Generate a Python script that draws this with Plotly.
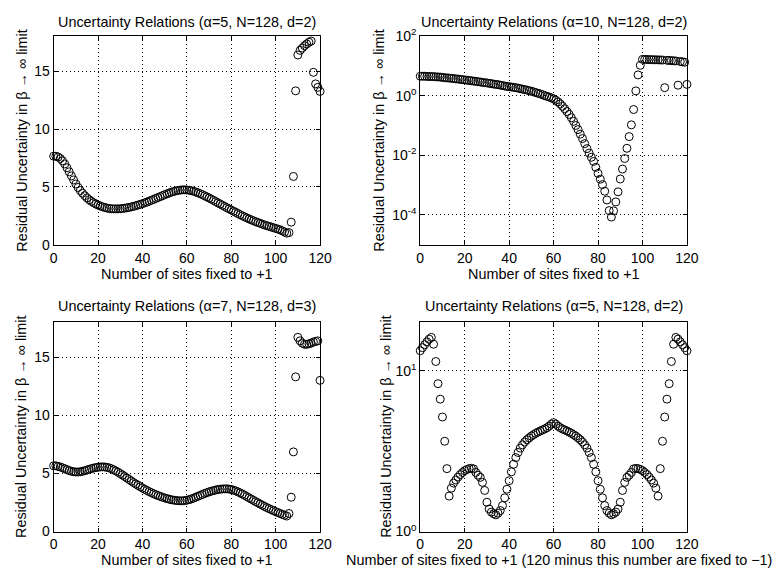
import plotly.graph_objects as go

W, H = 777, 577

sites = list(range(0, 121))

u_a5 = [7.65, 7.65, 7.58, 7.45, 7.25, 6.98, 6.65, 6.3, 5.95, 5.6,
        5.25, 4.95, 4.68, 4.45, 4.24, 4.05, 3.89, 3.75, 3.63, 3.52,
        3.43, 3.35, 3.28, 3.22, 3.17, 3.13, 3.11, 3.1, 3.1, 3.1,
        3.11, 3.13, 3.16, 3.19, 3.23, 3.27, 3.32, 3.37, 3.43, 3.49,
        3.55, 3.62, 3.69, 3.76, 3.84, 3.92, 4.0, 4.08, 4.16, 4.24,
        4.32, 4.4, 4.47, 4.54, 4.6, 4.65, 4.69, 4.72, 4.74, 4.75,
        4.73, 4.71, 4.67, 4.62, 4.56, 4.49, 4.41, 4.32, 4.23, 4.14,
        4.04, 3.94, 3.84, 3.73, 3.62, 3.52, 3.41, 3.31, 3.2, 3.1,
        3.0, 2.9, 2.8, 2.7, 2.6, 2.5, 2.41, 2.32, 2.23, 2.15,
        2.07, 1.99, 1.92, 1.85, 1.78, 1.71, 1.65, 1.59, 1.53, 1.47,
        1.41, 1.35, 1.29, 1.2, 1.1, 1.0, 1.05, 1.95, 5.9, 13.3,
        16.4, 16.8, 17.0, 17.2, 17.35, 17.5, 17.6, 14.9, 13.9, 13.6, 13.25]

u_a10 = [4.6, 4.6, 4.6, 4.55, 4.5, 4.5, 4.45, 4.4, 4.35, 4.3,
         4.2, 4.1, 4.05, 4.0, 3.9, 3.85, 3.75, 3.7, 3.6, 3.55,
         3.45, 3.4, 3.3, 3.25, 3.15, 3.1, 3.0, 2.95, 2.85, 2.8,
         2.75, 2.65, 2.6, 2.5, 2.45, 2.4, 2.3, 2.25, 2.15, 2.1,
         2.05, 2.0, 1.95, 1.9, 1.83, 1.76, 1.7, 1.64, 1.58, 1.5,
         1.44, 1.37, 1.3, 1.23, 1.17, 1.1, 1.03, 0.97, 0.92, 0.86,
         0.8, 0.72, 0.63, 0.54, 0.45, 0.37, 0.3, 0.24, 0.185, 0.14,
         0.102, 0.074, 0.052, 0.037, 0.025, 0.017, 0.012, 0.0087, 0.0063, 0.004,
         0.0025, 0.0016, 0.00105, 0.00063, 0.00032, 0.00014, 0.000085, 0.000138, 0.000275, 0.0006,
         0.00162, 0.0035, 0.0079, 0.0174, 0.043, 0.107, 0.35, 1.48, 5.1, 10.7,
         17.0, 16.9, 16.8, 16.7, 16.6, 16.5, 16.4, 16.3, 16.2, 16.1,
         1.9, 15.8, 15.6, 15.4, 15.2, 15.0, 2.3, 14.4, 14.0, 13.6, 2.45]

u_a7 = [5.65, 5.65, 5.6, 5.55, 5.48, 5.4, 5.32, 5.24, 5.18, 5.14,
        5.12, 5.12, 5.14, 5.18, 5.23, 5.29, 5.35, 5.41, 5.46, 5.5,
        5.53, 5.55, 5.56, 5.55, 5.52, 5.47, 5.4, 5.31, 5.21, 5.1,
        4.98, 4.86, 4.73, 4.6, 4.47, 4.34, 4.21, 4.09, 3.97, 3.85,
        3.74, 3.63, 3.53, 3.43, 3.34, 3.25, 3.17, 3.09, 3.02, 2.95,
        2.89, 2.83, 2.78, 2.73, 2.7, 2.67, 2.65, 2.64, 2.64, 2.66,
        2.69, 2.74, 2.8, 2.87, 2.95, 3.03, 3.11, 3.19, 3.27, 3.34,
        3.41, 3.47, 3.52, 3.57, 3.61, 3.64, 3.66, 3.67, 3.67, 3.65,
        3.61, 3.56, 3.49, 3.41, 3.32, 3.22, 3.12, 3.01, 2.9, 2.79,
        2.68, 2.57, 2.47, 2.36, 2.26, 2.16, 2.06, 1.97, 1.88, 1.79,
        1.71, 1.63, 1.55, 1.47, 1.4, 1.33, 1.55, 2.95, 6.85, 13.3,
        16.7, 16.4, 16.2, 16.1, 16.1, 16.15, 16.2, 16.3, 16.35, 16.4, 13.0]

u_sym = [13.3, 13.9, 14.5, 15.1, 15.7, 16.1, 14.6, 11.4, 8.3, 6.65,
         5.15, 3.64, 2.46, 1.66, 1.86, 2.0, 2.09, 2.18, 2.26, 2.33,
         2.39, 2.43, 2.46, 2.47, 2.45, 2.33, 2.24, 2.17, 2.02, 1.8,
         1.52, 1.38, 1.32, 1.29, 1.27, 1.3, 1.35, 1.45, 1.62, 1.83,
         2.07, 2.35, 2.62, 2.88, 3.1, 3.3, 3.46, 3.6, 3.72, 3.82,
         3.92, 4.0, 4.08, 4.15, 4.22, 4.28, 4.34, 4.42, 4.52, 4.65,
         4.75,
         4.65, 4.52, 4.42, 4.34, 4.28, 4.22, 4.15, 4.08, 4.0, 3.92,
         3.82, 3.72, 3.6, 3.46, 3.3, 3.1, 2.88, 2.62, 2.35, 2.07,
         1.83, 1.62, 1.45, 1.35, 1.3, 1.27, 1.29, 1.32, 1.38, 1.52,
         1.8, 2.02, 2.17, 2.24, 2.33, 2.45, 2.47, 2.46, 2.43, 2.39,
         2.33, 2.26, 2.18, 2.09, 2.0, 1.86, 1.66, 2.46, 3.64, 5.15,
         6.65, 8.3, 11.4, 14.6, 16.1, 15.7, 15.1, 14.5, 13.9, 13.3]

titles = ["Uncertainty Relations (\u03b1=5, N=128, d=2)",
          "Uncertainty Relations (\u03b1=10, N=128, d=2)",
          "Uncertainty Relations (\u03b1=7, N=128, d=3)",
          "Uncertainty Relations (\u03b1=5, N=128, d=2)"]
xlabels = ["Number of sites fixed to +1",
           "Number of sites fixed to +1",
           "Number of sites fixed to +1",
           "Number of sites fixed to +1 (120 minus this number are fixed to \u22121)"]
ylabel = "Residual Uncertainty in \u03b2 \u2192 \u221e limit"

x_ticks = [0, 20, 40, 60, 80, 100, 120]
lin_ticks = [0, 5, 10, 15]
log_ticks_a10 = [1e-4, 1e-2, 1, 100]
log_text_a10 = ["10<sup>-4</sup>", "10<sup>-2</sup>", "10<sup>0</sup>", "10<sup>2</sup>"]
log_ticks_sym = [1, 10]
log_text_sym = ["10<sup>0</sup>", "10<sup>1</sup>"]

FONT = "Liberation Sans, Arial, Helvetica, sans-serif"
TXT = 14.4
TICK = 14

# pixel geometry
left_col = (50.7, 322.7)
right_col = (425.0, 697.3)
top_row = (27.3, 242.3)
bot_row = (322.3, 538.3)

def xd(c):
    return [c[0] / W, c[1] / W]

def yd(r):
    return [1 - r[1] / H, 1 - r[0] / H]

fig = go.Figure()
series = [u_a5, u_a10, u_a7, u_sym]
for i, ys in enumerate(series):
    fig.add_trace(go.Scatter(
        x=sites, y=ys, mode="markers",
        marker=dict(symbol="circle-open", size=8, color="black", line=dict(width=1, color="black")),
        xaxis="x" if i == 0 else f"x{i+1}", yaxis="y" if i == 0 else f"y{i+1}",
        cliponaxis=False, showlegend=False, hoverinfo="skip"))

common = dict(showline=True, linecolor="black", linewidth=1, mirror="allticks",
              ticks="inside", ticklen=4, tickcolor="black", showgrid=True,
              gridcolor="black", gridwidth=1, griddash="1px,3px", zeroline=False,
              tickfont=dict(family=FONT, size=TICK, color="black"))

layout = dict(width=W, height=H, margin=dict(l=0, r=0, t=0, b=0),
              paper_bgcolor="white", plot_bgcolor="white", hovermode=False,
              font=dict(family=FONT, size=TXT, color="black"))

cols = [left_col, right_col, left_col, right_col]
rows = [top_row, top_row, bot_row, bot_row]
for i in range(4):
    xk = "xaxis" if i == 0 else f"xaxis{i+1}"
    yk = "yaxis" if i == 0 else f"yaxis{i+1}"
    anchor_y = "y" if i == 0 else f"y{i+1}"
    anchor_x = "x" if i == 0 else f"x{i+1}"
    layout[xk] = dict(domain=xd(cols[i]), range=[0, 120], tickvals=x_ticks,
                      anchor=anchor_y, **common)
    if i == 1:
        layout[yk] = dict(domain=yd(rows[i]), type="log", range=[-5, 2],
                          tickvals=log_ticks_a10, ticktext=log_text_a10,
                          anchor=anchor_x, **common)
    elif i == 3:
        layout[yk] = dict(domain=yd(rows[i]), type="log", range=[0, 1.30103],
                          tickvals=log_ticks_sym, ticktext=log_text_sym,
                          anchor=anchor_x, **common)
    else:
        layout[yk] = dict(domain=yd(rows[i]), range=[0, 18], tickvals=lin_ticks,
                          anchor=anchor_x, **common)

fig.update_layout(**layout)

ann = []
title_y = [12.5, 12.5, 306, 306]
xlabel_y = [272, 272, 567.5, 567.5]
xlabel_x = [186.7, 561.2, 186.7, 567]
ylabel_x = [17.5, 382, 17.5, 390]
for i in range(4):
    cx = (cols[i][0] + cols[i][1]) / 2
    cy = (rows[i][0] + rows[i][1]) / 2
    ann.append(dict(text=titles[i], x=cx / W, y=1 - title_y[i] / H, xref="paper", yref="paper",
                    xanchor="center", yanchor="middle", showarrow=False, font=dict(size=TXT)))
    ann.append(dict(text=xlabels[i], x=xlabel_x[i] / W, y=1 - xlabel_y[i] / H, xref="paper", yref="paper",
                    xanchor="center", yanchor="middle", showarrow=False, font=dict(size=TXT)))
    ann.append(dict(text=ylabel, x=ylabel_x[i] / W, y=1 - cy / H, xref="paper", yref="paper",
                    xanchor="center", yanchor="middle", textangle=-90, showarrow=False,
                    font=dict(size=TXT)))
fig.update_layout(annotations=ann)

fig.write_html("out.html", config={"displayModeBar": False, "staticPlot": True},
               post_script="document.body.style.margin='0';document.body.style.overflow='hidden';")
